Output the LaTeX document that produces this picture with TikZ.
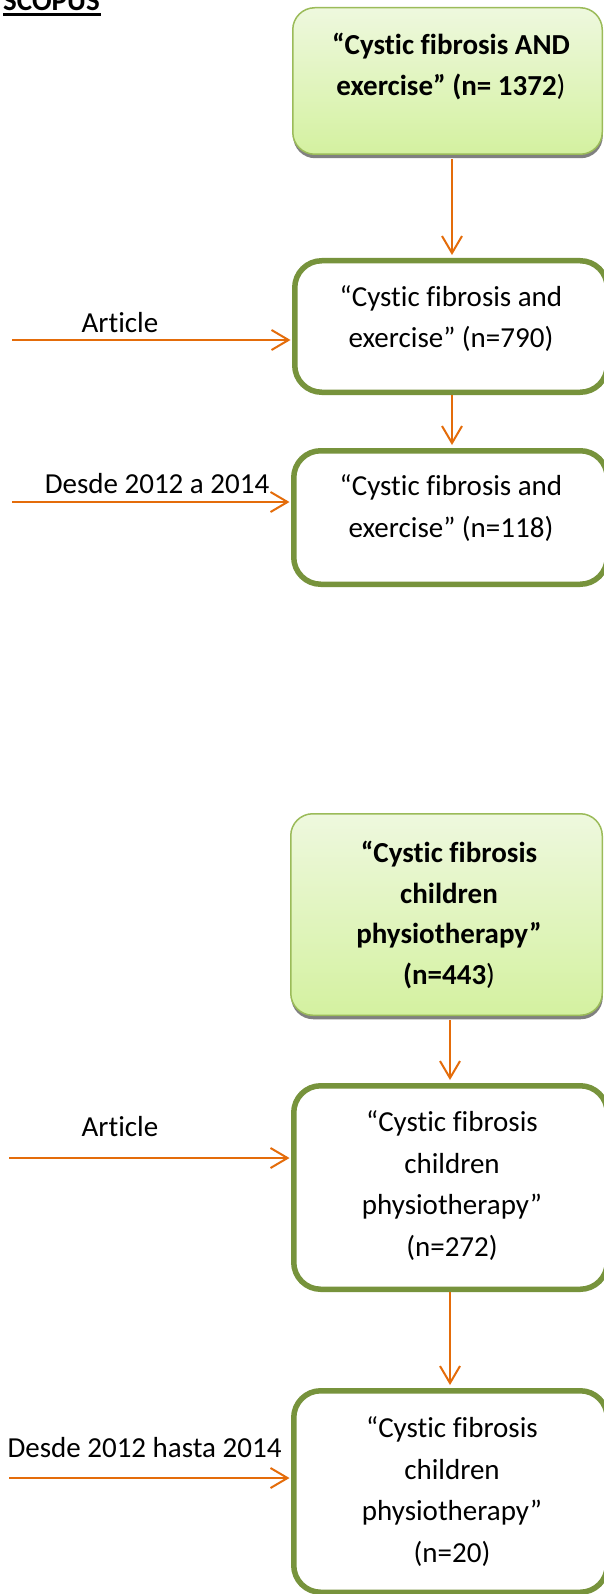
\documentclass[tikz,border=0pt]{standalone}
\usepackage{fontspec}
\setmainfont{Carlito}[Ligatures=CommonOff]
\usetikzlibrary{arrows.meta,shadows}
\definecolor{arrorange}{RGB}{228,108,10}
\definecolor{boxolive}{RGB}{119,147,60}
\definecolor{greenedge}{RGB}{155,187,89}
\definecolor{greentop}{RGB}{238,248,222}
\definecolor{greenbot}{RGB}{212,241,160}
\tikzset{
  whitebox/.style={draw=boxolive, line width=5.5pt, rounded corners=27pt, fill=white, inner sep=0pt},
  greenbox/.style={draw=greenedge, line width=1.5pt, rounded corners=22pt, top color=greentop, bottom color=greenbot, inner sep=0pt,
    drop shadow={shadow xshift=0.5pt, shadow yshift=-4pt, fill=black!55, opacity=0.9}},
  boxtext/.style={font=\fontsize{29}{41.5}\selectfont, align=center, inner sep=0pt, anchor=base},
  boldtext/.style={font=\fontsize{29}{40.5}\selectfont\bfseries, align=center, inner sep=0pt, anchor=base},
  sidetext/.style={font=\fontsize{29}{35}\selectfont, inner sep=0pt, anchor=base},
  arr/.style={draw=arrorange, line width=2pt, -{Straight Barb[length=17pt,width=20pt]}},
}
\begin{document}
\begin{tikzpicture}[x=1pt,y=-1pt]
\useasboundingbox (0,0) rectangle (604,1594);
\fill[white] (0,0) rectangle (604,1594);

% title
\node[font=\fontsize{29}{35}\selectfont\bfseries, inner sep=0pt, anchor=base west] (scopus) at (3,11) {SCOPUS};
\draw[line width=2.6pt] (3,14.3) -- (101,14.3);

% boxes
\node[greenbox, minimum width=309.5pt, minimum height=146.5pt] (b1) at (447.5,81) {};
\node[whitebox, minimum width=312.5pt, minimum height=131.5pt] (b2) at (451,326.5) {};
\node[whitebox, minimum width=313.5pt, minimum height=133.5pt] (b3) at (450.5,517.5) {};
\node[greenbox, minimum width=311.5pt, minimum height=201.5pt] (b4) at (446.5,914.5) {};
\node[whitebox, minimum width=313.5pt, minimum height=203.5pt] (b5) at (450.5,1187.5) {};
\node[whitebox, minimum width=313.5pt, minimum height=201.5pt] (b6) at (450.5,1491.5) {};

% box texts (anchor = baseline of the last line)
\node[boldtext] (t1) at (451,95.5) {“Cystic fibrosis AND\\exercise” (n= 1372\mdseries)};
\node[boxtext] (t2) at (451,347.5) {“Cystic fibrosis and\\exercise” (n=790)};
\node[boxtext] (t3) at (451,537) {“Cystic fibrosis and\\exercise” (n=118)};
\node[boldtext] (t4) at (449,984) {“Cystic fibrosis\\children\\physiotherapy”\\(n=443\mdseries)};
\node[boxtext] (t5) at (452,1256) {“Cystic fibrosis\\children\\physiotherapy”\\(n=272)};
\node[boxtext] (t6) at (452,1562) {“Cystic fibrosis\\children\\physiotherapy”\\(n=20)};

% side labels
\node[sidetext] (l1) at (120,332) {Article};
\node[sidetext] (l2) at (157,493) {Desde 2012 a 2014};
\node[sidetext] (l3) at (120,1136) {Article};
\node[sidetext] (l4) at (144.5,1457) {Desde 2012 hasta 2014};

% vertical connectors
\coordinate (xa) at (452,0);
\coordinate (xb) at (450,0);
\draw[arr, shorten <=4pt, shorten >=3pt] (b1.south -| xa) -- (b2.north -| xa);
\draw[arr, shorten >=3pt] (b2.south -| xa) -- (b3.north -| xa);
\draw[arr, shorten <=4pt, shorten >=3pt] (b4.south -| xb) -- (b5.north -| xb);
\draw[arr, shorten >=3pt] (b5.south -| xb) -- (b6.north -| xb);

% side connectors
\coordinate (s1) at (12,340);
\coordinate (s2) at (12,502);
\coordinate (s3) at (9,1158);
\coordinate (s4) at (9,1478);
\draw[arr, shorten >=1.5pt] (s1) -- (s1 -| b2.west);
\draw[arr, shorten >=1.5pt] (s2) -- (s2 -| b3.west);
\draw[arr, shorten >=1.5pt] (s3) -- (s3 -| b5.west);
\draw[arr, shorten >=1.5pt] (s4) -- (s4 -| b6.west);
\end{tikzpicture}
\end{document}
